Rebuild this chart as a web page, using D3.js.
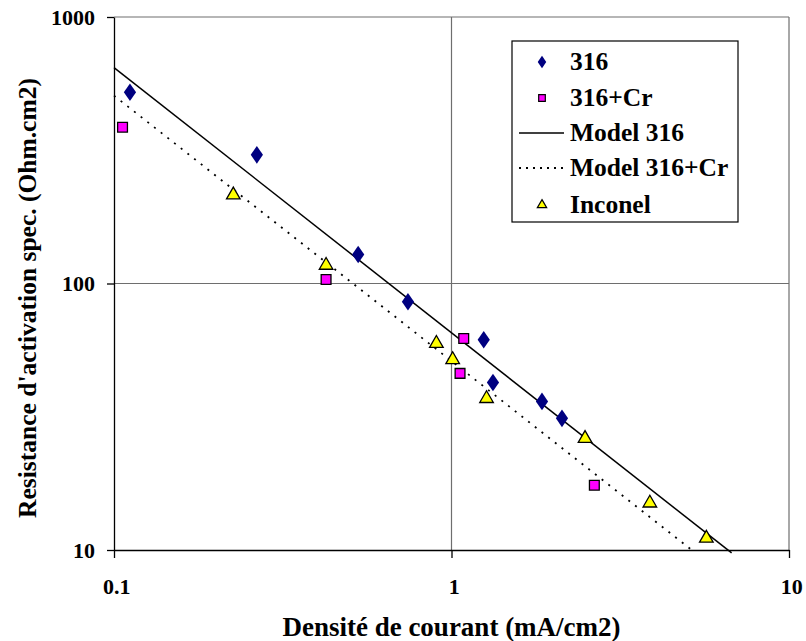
<!DOCTYPE html>
<html>
<head>
<meta charset="utf-8">
<script src="https://cdn.jsdelivr.net/npm/d3@7"></script>
<style>
  html, body { margin: 0; padding: 0; background: #fff; }
  svg { display: block; }
  text { font-family: "Liberation Serif", "Times New Roman", serif; font-weight: bold; fill: #000; }
</style>
</head>
<body>
<svg id="chart" width="806" height="641"></svg>
<script>
// ---- data ----
const x316 = [0.1115, 0.265, 0.529, 0.743, 1.246, 1.327, 1.854, 2.125];
const y316 = [522, 304, 128.5, 85.4, 61.5, 42.5, 36.1, 31.2];

const x316Cr = [0.106, 0.425, 1.087, 1.06, 2.65];
const y316Cr = [386, 103.5, 62.2, 46, 17.5];

const xInconel = [0.2257, 0.425, 0.902, 1.008, 1.27, 2.487, 3.87, 5.69];
const yInconel = [215, 117, 59.6, 51.8, 37, 26.2, 15.0, 11.07];

const xModel316 = [0.1, 6.76];
const yModel316 = [646, 9.75];

const xModel316Cr = [0.1, 5.2];
const yModel316Cr = [507, 9.9];

const xTicks = [0.1, 1, 10];
const xTickLabels = ["0.1", "1", "10"];
const yTicks = [10, 100, 1000];
const yTickLabels = ["10", "100", "1000"];

const legendLabels = ["316", "316+Cr", "Model 316", "Model 316+Cr", "Inconel"];
const xTitle = "Densité de courant (mA/cm2)";
const yTitle = "Resistance d'activation spec. (Ohm.cm2)";

// ---- layout ----
const L = 114, R = 789, T = 17, B = 550;
const svg = d3.select("#chart");
const x = d3.scaleLog().domain([0.1, 10]).range([L, R]);
const y = d3.scaleLog().domain([10, 1000]).range([B, T]);

// gridlines
const grid = svg.append("g");
grid.selectAll("line.gx").data(xTicks.slice(1)).enter().append("line")
  .attr("x1", d => x(d)).attr("x2", d => x(d)).attr("y1", T).attr("y2", B)
  .attr("stroke", "#6e6e6e").attr("stroke-width", 1.2);
grid.selectAll("line.gy").data(yTicks.slice(1)).enter().append("line")
  .attr("x1", L).attr("x2", R).attr("y1", d => y(d)).attr("y2", d => y(d))
  .attr("stroke", "#6e6e6e").attr("stroke-width", 1.2);

// axes
const xAxis = d3.axisBottom(x).tickValues(xTicks).tickFormat((d, i) => xTickLabels[i])
  .tickSizeInner(8).tickSizeOuter(0).tickPadding(20);
const yAxis = d3.axisLeft(y).tickValues(yTicks).tickFormat((d, i) => yTickLabels[i])
  .tickSizeInner(7).tickSizeOuter(0).tickPadding(12);

const gx = svg.append("g").attr("transform", `translate(0,${B})`).call(xAxis);
const gy = svg.append("g").attr("transform", `translate(${L},0)`).call(yAxis);
[gx, gy].forEach(g => {
  g.select(".domain").attr("stroke", "#000").attr("stroke-width", 1.3);
  g.selectAll(".tick line").attr("stroke", "#000").attr("stroke-width", 1.3);
  g.selectAll(".tick text").style("font-family", '"Liberation Serif", serif')
    .style("font-weight", "bold").style("font-size", "22px").attr("fill", "#000");
});
gy.selectAll(".tick text").attr("dy", "0.34em");
gx.selectAll(".tick text").attr("dx", "0.1em");

// axis titles
svg.append("text").attr("x", (L + R) / 2).attr("y", 636)
  .attr("text-anchor", "middle").style("font-size", "27px").text(xTitle);
svg.append("text").attr("transform", `translate(36,298) rotate(-90)`)
  .attr("text-anchor", "middle").style("font-size", "25.5px").text(yTitle);

// model lines
const line = d3.line().x(d => x(d[0])).y(d => y(d[1]));
svg.append("path").datum(xModel316.map((v, i) => [v, yModel316[i]]))
  .attr("d", line).attr("fill", "none").attr("stroke", "#000").attr("stroke-width", 1.5);
svg.append("path").datum(xModel316Cr.map((v, i) => [v, yModel316Cr[i]]))
  .attr("d", line).attr("fill", "none").attr("stroke", "#000").attr("stroke-width", 1.8)
  .attr("stroke-dasharray", "2,6.5");

// markers
const diamond = d3.symbol().type(d3.symbolDiamond).size(90);
const square = d3.symbol().type(d3.symbolSquare).size(96);
const triangle = d3.symbol().type(d3.symbolTriangle).size(80);

svg.append("g").selectAll("path").data(x316.map((v, i) => [v, y316[i]])).enter().append("path")
  .attr("d", diamond).attr("transform", d => `translate(${x(d[0])},${y(d[1])}) scale(1.2,1)`)
  .attr("fill", "#000080");
svg.append("g").selectAll("path").data(x316Cr.map((v, i) => [v, y316Cr[i]])).enter().append("path")
  .attr("d", square).attr("transform", d => `translate(${x(d[0])},${y(d[1])})`)
  .attr("fill", "#ff00ff").attr("stroke", "#000").attr("stroke-width", 1.3);
svg.append("g").selectAll("path").data(xInconel.map((v, i) => [v, yInconel[i]])).enter().append("path")
  .attr("d", triangle).attr("transform", d => `translate(${x(d[0])},${y(d[1])})`)
  .attr("fill", "#ffff00").attr("stroke", "#000").attr("stroke-width", 1.3);

// legend
const lg = svg.append("g");
lg.append("rect").attr("x", 512).attr("y", 41).attr("width", 226).attr("height", 181)
  .attr("fill", "#fff").attr("stroke", "#000").attr("stroke-width", 1.2);
const ly = [62, 98, 133, 168, 205];
legendLabels.forEach((lab, i) => {
  lg.append("text").attr("x", 570).attr("y", ly[i] + 8).style("font-size", "25.5px").text(lab);
});
lg.append("path").attr("d", d3.symbol().type(d3.symbolDiamond).size(44))
  .attr("transform", `translate(542,${ly[0]}) scale(1.2,1)`).attr("fill", "#000080");
lg.append("path").attr("d", d3.symbol().type(d3.symbolSquare).size(44))
  .attr("transform", `translate(542,${ly[1]})`).attr("fill", "#ff00ff").attr("stroke", "#000").attr("stroke-width", 1.2);
lg.append("line").attr("x1", 519).attr("x2", 564).attr("y1", ly[2]).attr("y2", ly[2])
  .attr("stroke", "#000").attr("stroke-width", 1.5);
lg.append("line").attr("x1", 519).attr("x2", 564).attr("y1", ly[3]).attr("y2", ly[3])
  .attr("stroke", "#000").attr("stroke-width", 1.8).attr("stroke-dasharray", "2,5");
lg.append("path").attr("d", d3.symbol().type(d3.symbolTriangle).size(38))
  .attr("transform", `translate(542,${ly[4]})`).attr("fill", "#ffff00").attr("stroke", "#000").attr("stroke-width", 1.2);
</script>
</body>
</html>
